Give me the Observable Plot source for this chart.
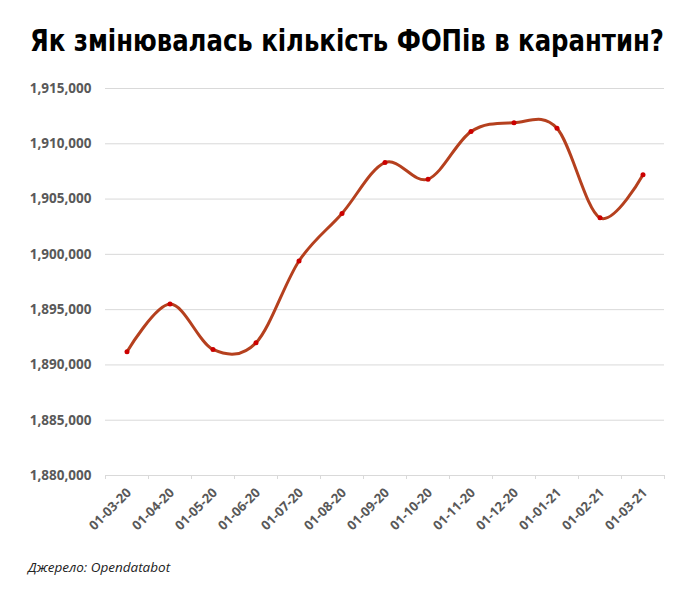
<!DOCTYPE html>
<html>
<head>
<meta charset="utf-8">
<script src="https://cdn.jsdelivr.net/npm/d3@7"></script>
<script src="https://cdn.jsdelivr.net/npm/@observablehq/plot@0.6"></script>
<style>
  html, body { margin: 0; padding: 0; background: #fff; }
  #wrap { position: relative; width: 690px; height: 595px; overflow: hidden; }
  #title { position: absolute; left: 30px; top: 25px; margin: 0; font-family: "DejaVu Sans", sans-serif; font-stretch: condensed; font-weight: bold; font-size: 31px; line-height: 1; color: #000; white-space: nowrap; transform-origin: 0 0; }
  #chart { position: absolute; left: 0; top: 70px; }
  #caption { position: absolute; left: 28px; top: 561px; font-family: "Open Sans", sans-serif; font-style: italic; font-size: 13.5px; line-height: 1; color: #222; }
</style>
</head>
<body>
<div id="wrap">
  <h1 id="title">Як змінювалась кількість ФОПів в карантин?</h1>
  <div id="chart"></div>
  <div id="caption">Джерело: Opendatabot</div>
</div>
<script>
const dates = ["01-03-20","01-04-20","01-05-20","01-06-20","01-07-20","01-08-20","01-09-20","01-10-20","01-11-20","01-12-20","01-01-21","01-02-21","01-03-21"];
const values = [1891200, 1895500, 1891400, 1892000, 1899400, 1903700, 1908300, 1906800, 1911100, 1911900, 1911400, 1903300, 1907200];
const yTicks = [1880000, 1885000, 1890000, 1895000, 1900000, 1905000, 1910000, 1915000];

const data = dates.map((d, i) => ({date: d, value: values[i]}));

const W = 690, H = 470, mL = 105, mR = 26, mT = 18, mB = 65;
const step = (W - mL - mR) / dates.length;
const grid = "#d9d9d9";

const chart = Plot.plot({
  width: W, height: H,
  marginLeft: mL, marginRight: mR, marginTop: mT, marginBottom: mB,
  style: {fontFamily: "Open Sans, sans-serif", fontSize: "13px", fontWeight: "bold", color: "#595959", background: "#fff"},
  x: {type: "band", domain: dates, padding: 0, label: null},
  y: {domain: [yTicks[0], yTicks[yTicks.length - 1]], label: null},
  marks: [
    Plot.gridY(yTicks, {stroke: grid, strokeOpacity: 1, strokeWidth: 1}),
    Plot.axisY(yTicks, {tickSize: 0, tickPadding: 14, tickFormat: d3.format(","), label: null, fontSize: 13.5}),
    Plot.ruleX(dates, {x: d => d, dx: -step / 2, y1: yTicks[0], y2: yTicks[0], insetBottom: -4, stroke: grid}),
    Plot.ruleX([dates[dates.length - 1]], {x: d => d, dx: step / 2, y1: yTicks[0], y2: yTicks[0], insetBottom: -4, stroke: grid}),
    Plot.axisX({tickSize: 0, tickRotate: -45, tickPadding: 15, dx: 2, label: null, fontSize: 13}),
    Plot.line(data, {x: "date", y: "value", curve: "cardinal", stroke: "#b5401e", strokeWidth: 3}),
    Plot.dot(data, {x: "date", y: "value", r: 2.5, fill: "#cc0000", stroke: "none"})
  ]
});
document.getElementById("chart").appendChild(chart);

// fit title to the reference's width (x 30 → 664)
const t = document.getElementById("title");
const w = t.getBoundingClientRect().width;
if (w > 0) t.style.transform = `scaleX(${634 / w})`;
</script>
</body>
</html>
